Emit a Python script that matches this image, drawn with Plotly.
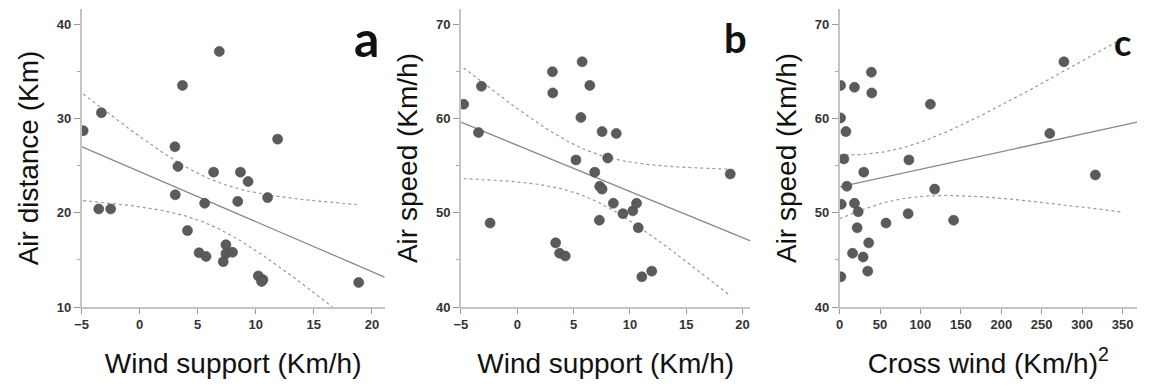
import numpy as np
import plotly.graph_objects as go

# ---------------- data ----------------
wind_a = [-4.86, -3.29, -3.52, -2.49, 3.69, 6.86, 3.04, 3.30, 3.07, 5.60, 4.12, 5.12, 5.72,
          6.37, 8.68, 9.34, 8.45, 11.02, 11.88, 7.43, 7.43, 8.0, 7.2, 10.22, 10.62, 10.5, 18.86]
air_distance = [28.7, 30.6, 20.4, 20.4, 33.5, 37.1, 27.0, 24.9, 21.9, 21.0, 18.1, 15.75, 15.36,
                24.3, 24.3, 23.3, 21.2, 21.6, 27.8, 16.6, 15.65, 15.8, 14.8, 13.3, 12.9, 12.7, 12.6]

wind_b = [-4.76, -3.18, -3.44, -2.41, 3.12, 3.15, 5.76, 6.44, 5.65, 5.21, 7.53, 8.79, 8.03, 6.88,
          7.32, 7.53, 8.53, 7.29, 9.38, 10.26, 10.59, 10.74, 3.41, 3.76, 4.26, 11.06, 11.94, 18.91]
air_speed_b = [61.5, 63.4, 58.5, 48.9, 64.95, 62.7, 66.0, 63.5, 60.1, 55.6, 58.6, 58.4, 55.8, 54.3,
               52.8, 52.5, 51.0, 49.2, 49.9, 50.2, 51.0, 48.4, 46.8, 45.7, 45.4, 43.2, 43.8, 54.1]

cross_c = [1.2, 1.2, 7.8, 5.3, 9.0, 2.0, 1.6, 18.4, 39.3, 39.8, 29.9, 18.4, 23.0, 21.7, 16.0,
           29.1, 36.0, 34.8, 57.4, 85.7, 84.8, 112.3, 117.6, 141.0, 260.0, 277.5, 316.4]
air_speed_c = [63.5, 60.05, 58.6, 55.7, 52.8, 50.9, 43.2, 63.3, 64.9, 62.7, 54.3, 51.0, 50.1, 48.4, 45.7,
               45.3, 46.8, 43.8, 48.9, 55.6, 49.9, 61.5, 52.5, 49.2, 58.4, 66.0, 54.0]

panel_letters = ["a", "b", "c"]
x_titles = ["Wind support (Km/h)", "Wind support (Km/h)", "Cross wind (Km/h)<sup>2</sup>"]
y_titles = ["Air distance (Km)", "Air speed (Km/h)", "Air speed (Km/h)"]
x_ticks = [[-5, 0, 5, 10, 15, 20], [-5, 0, 5, 10, 15, 20], [0, 50, 100, 150, 200, 250, 300, 350]]
y_ticks = [[10, 20, 30, 40], [40, 50, 60, 70], [40, 50, 60, 70]]

# ---------------- layout settings ----------------
W, H = 1150, 386
x_dom_px = [(75, 380), (456.7, 748), (837.7, 1137)]
x_ranges = [[-5, 21.1], [-5, 20.7], [0, 368]]
y_ranges = [[10, 41.6], [40, 71.6], [40, 71.6]]
ci_ranges = [None, None, [0, 350]]
T_975 = {25: 2.060, 26: 2.056}

MARK = "#5b5b5b"
LINE = "#8a8a8a"
AXIS = "#c4c4c4"
FONT = "Liberation Sans, Arial, sans-serif"

fig = go.Figure()

datasets = [(wind_a, air_distance), (wind_b, air_speed_b), (cross_c, air_speed_c)]

for i, (xs, ys) in enumerate(datasets):
    xa = "x" if i == 0 else f"x{i+1}"
    ya = "y" if i == 0 else f"y{i+1}"
    x = np.array(xs, float)
    y = np.array(ys, float)
    n = len(x)
    b, a = np.polyfit(x, y, 1)
    resid = y - (a + b * x)
    s = np.sqrt(np.sum(resid ** 2) / (n - 2))
    sxx = np.sum((x - x.mean()) ** 2)
    t = T_975.get(n - 2, 2.06)

    # fit line across full axis
    xl = np.linspace(x_ranges[i][0], x_ranges[i][1], 50)
    fig.add_trace(go.Scatter(x=xl, y=a + b * xl, mode="lines", xaxis=xa, yaxis=ya,
                             line=dict(color=LINE, width=1.3), showlegend=False, hoverinfo="skip"))
    # confidence bands
    lo_x, hi_x = (x.min(), x.max()) if ci_ranges[i] is None else ci_ranges[i]
    xc = np.linspace(lo_x, hi_x, 120)
    half = t * s * np.sqrt(1.0 / n + (xc - x.mean()) ** 2 / sxx)
    for sign in (1, -1):
        fig.add_trace(go.Scatter(x=xc, y=a + b * xc + sign * half, mode="lines", xaxis=xa, yaxis=ya,
                                 line=dict(color="#9a9a9a", width=1.2, dash="3px,3px"),
                                 showlegend=False, hoverinfo="skip"))
    fig.add_trace(go.Scatter(x=x, y=y, mode="markers", xaxis=xa, yaxis=ya,
                             marker=dict(size=10, color=MARK, line=dict(width=0.6, color="#4a4a4a")),
                             showlegend=False, cliponaxis=True))

layout = dict(width=W, height=H, margin=dict(l=0, r=0, t=9, b=79),
              paper_bgcolor="white", plot_bgcolor="white", showlegend=False)

for i in range(3):
    sfx = "" if i == 0 else str(i + 1)
    d0, d1 = x_dom_px[i]
    layout[f"xaxis{sfx}"] = dict(
        domain=[d0 / W, d1 / W], range=x_ranges[i], tickvals=x_ticks[i],
        showline=True, linecolor=AXIS, linewidth=1.5, showgrid=False, zeroline=False,
        ticks="outside", ticklen=5, tickcolor="#999", tickwidth=1,
        tickfont=dict(family=FONT, size=13, color="#333", weight="bold"),
        anchor="y" if i == 0 else f"y{i+1}",
        title=dict(text=x_titles[i], font=dict(family=FONT, size=28, color="#111"), standoff=22),
    )
    layout[f"yaxis{sfx}"] = dict(
        domain=[0, 1], range=y_ranges[i], tickvals=y_ticks[i],
        showline=True, linecolor=AXIS, linewidth=1.5, showgrid=False, zeroline=False,
        ticks="outside", ticklen=6, tickcolor="#999", tickwidth=1,
        minor=dict(dtick=5, ticklen=3, tickcolor="#aaa", ticks="outside", showgrid=False),
        tickfont=dict(family=FONT, size=13, color="#333", weight="bold"),
        anchor="x" if i == 0 else f"x{i+1}",
        title=dict(text=y_titles[i], font=dict(family=FONT, size=28, color="#111"), standoff=10),
    )

fig.update_layout(**layout)

letter_pos = [(362, 37, 50), (733, 38, 40), (1122, 43, 36)]
for i, (px, py, fs) in enumerate(letter_pos):
    fig.add_annotation(x=px / W, y=1 - py / H, xref="paper", yref="paper", yanchor="middle",
                       xanchor="center", text=f"<b>{panel_letters[i]}</b>", showarrow=False,
                       font=dict(family="Lato, Open Sans, sans-serif", size=fs, color="#111"))

fig.write_html("out.html")
